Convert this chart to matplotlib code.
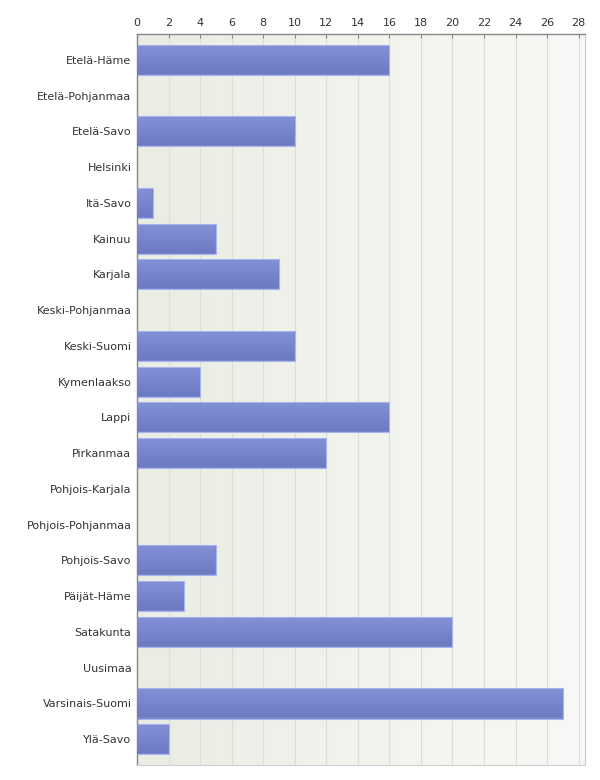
import matplotlib
matplotlib.use("Agg")
import matplotlib.pyplot as plt
import numpy as np
from matplotlib.colors import LinearSegmentedColormap

categories = ["Etelä-Häme", "Etelä-Pohjanmaa", "Etelä-Savo", "Helsinki", "Itä-Savo",
              "Kainuu", "Karjala", "Keski-Pohjanmaa", "Keski-Suomi", "Kymenlaakso",
              "Lappi", "Pirkanmaa", "Pohjois-Karjala", "Pohjois-Pohjanmaa", "Pohjois-Savo",
              "Päijät-Häme", "Satakunta", "Uusimaa", "Varsinais-Suomi", "Ylä-Savo"]
values = [16, 0, 10, 0, 1, 5, 9, 0, 10, 4, 16, 12, 0, 0, 5, 3, 20, 0, 27, 2]
xticks = list(range(0, 29, 2))

plt.rcParams['font.family'] = ['DejaVu Sans']

fig = plt.figure(figsize=(6, 7.8), dpi=100)
ax = fig.add_axes([137/600, 1 - 765/780, (585 - 137)/600, (765 - 34)/780])

n = len(categories)
xmax = 28.4
pad = 0.22
ax.set_xlim(0, xmax)
ax.set_ylim(n - 0.5 + pad, -0.5 - pad)

# background gradient
bg = LinearSegmentedColormap.from_list("bg", ["#eaede4", "#f8f9f6"])
ax.imshow(np.linspace(0, 1, 256).reshape(1, -1), cmap=bg, aspect='auto',
          extent=[0, 1, 0, 1], transform=ax.transAxes, zorder=0)

for x in xticks[1:]:
    ax.axvline(x, color="#dcddd6", lw=0.8, zorder=1)

bar_cmap = LinearSegmentedColormap.from_list("bar", ["#6c7ac2", "#8290d6"])
h = 0.84
grad = np.linspace(0, 1, 64).reshape(-1, 1)
for i, v in enumerate(values):
    if v <= 0:
        continue
    ax.barh(i, v, height=h, color="#7884cc", edgecolor="#a8b4ec", lw=0.8, zorder=2)
    ax.imshow(grad, cmap=bar_cmap, aspect='auto', origin='lower',
              extent=[0.03, v - 0.03, i + h/2 - 0.03, i - h/2 + 0.03], zorder=3)

ax.set_xlim(0, xmax)
ax.set_ylim(n - 0.5 + pad, -0.5 - pad)

ax.xaxis.tick_top()
ax.set_xticks(xticks)
ax.set_xticklabels([str(t) for t in xticks])
ax.tick_params(axis='x', direction='in', length=3, color="#888888", labelsize=8,
               labelcolor="#333333", pad=4)
ax.set_yticks(range(n))
ax.set_yticklabels(categories)
ax.tick_params(axis='y', length=0, labelsize=8, labelcolor="#333333", pad=4)

for s in ['top', 'left']:
    ax.spines[s].set_color("#888888")
    ax.spines[s].set_linewidth(1)
ax.spines['right'].set_color("#c8c8c8")
ax.spines['bottom'].set_color("#d0d0d0")

fig.savefig("out.png", dpi=100)
